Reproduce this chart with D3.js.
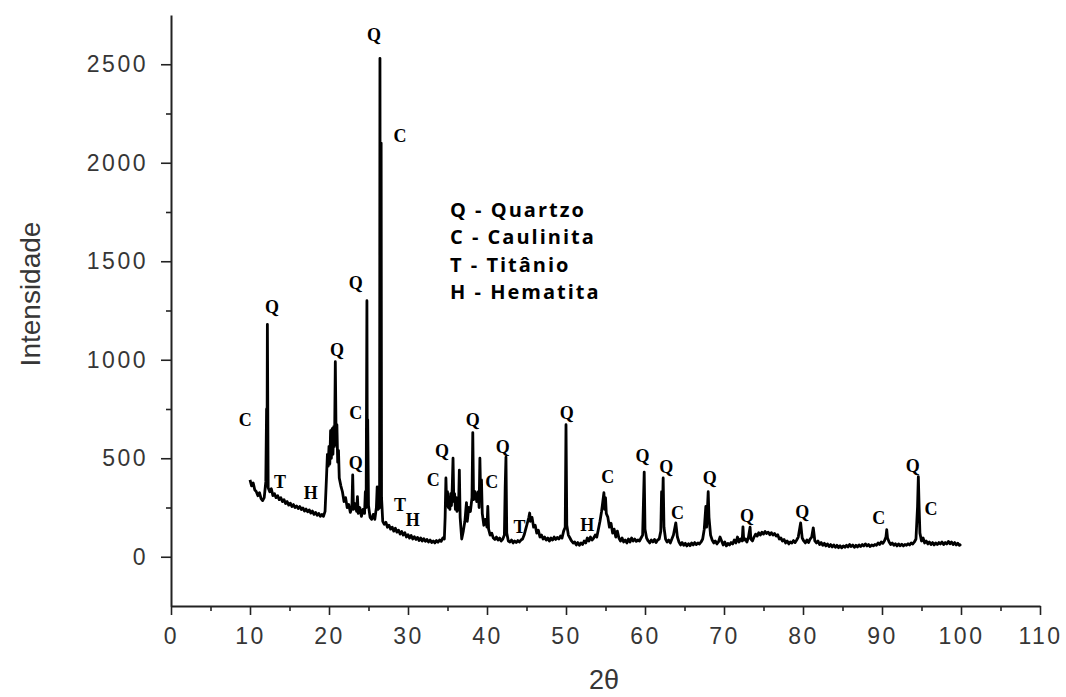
<!DOCTYPE html>
<html>
<head>
<meta charset="utf-8">
<script src="https://cdn.jsdelivr.net/npm/d3@7"></script>
<style>
  body { margin: 0; background: #fff; }
</style>
</head>
<body>
<script>
const width = 1066;
const height = 697;

// tick values
const xTicks = [0, 10, 20, 30, 40, 50, 60, 70, 80, 90, 100, 110];
const xMinorTicks = [5, 15, 25, 35, 45, 55, 65, 75, 85, 95, 105];
const yTicks = [0, 500, 1000, 1500, 2000, 2500];
const yMinorTicks = [250, 750, 1250, 1750, 2250];

// legend lines
const legendItems = ['Q - Quartzo', 'C - Caulinita', 'T - Titânio', 'H - Hematita'];

// diffractogram: [2theta, intensity]
const pattern = [
  [10.0, 390], [10.2, 360], [10.4, 375], [10.6, 340], [10.8, 330], [11.0, 310], [11.2, 325], [11.4, 295],
  [11.6, 285], [11.8, 300], [12.0, 380], [12.1, 750], [12.15, 420], [12.2, 1180], [12.3, 350],
  [12.5, 330], [12.7, 345], [12.9, 310], [13.1, 320], [13.3, 300], [13.5, 310], [13.7, 290], [13.9, 300],
  [14.1, 280], [14.3, 290], [14.5, 270], [14.7, 280], [14.9, 262], [15.1, 272], [15.3, 255], [15.5, 265],
  [15.7, 250], [15.9, 258], [16.1, 245], [16.3, 255], [16.5, 240], [16.7, 248], [16.9, 232], [17.1, 242],
  [17.3, 228], [17.5, 238], [17.7, 222], [17.9, 232], [18.1, 215], [18.3, 225], [18.5, 210], [18.7, 220],
  [18.9, 205], [19.1, 215], [19.3, 205], [19.5, 230],
  [19.7, 420], [19.8, 520], [19.9, 460], [20.0, 560], [20.1, 470], [20.2, 640], [20.3, 500], [20.4, 650],
  [20.5, 520], [20.6, 660], [20.7, 560], [20.8, 990], [20.9, 600], [21.0, 670], [21.1, 480], [21.2, 540],
  [21.3, 400], [21.5, 360], [21.7, 330], [21.9, 280], [22.1, 300], [22.3, 250], [22.5, 265], [22.7, 225],
  [22.9, 250], [23.0, 415], [23.1, 240], [23.3, 270], [23.5, 230], [23.6, 305], [23.7, 220], [23.9, 250],
  [24.1, 205], [24.3, 240], [24.5, 220], [24.6, 330], [24.7, 250], [24.8, 1300], [24.85, 420], [24.9, 695],
  [25.0, 260], [25.2, 200], [25.4, 190], [25.6, 215], [25.8, 190], [26.0, 250], [26.1, 355], [26.2, 240],
  [26.4, 250], [26.45, 2530], [26.5, 600], [26.6, 2100], [26.65, 300], [26.8, 180],
  [27.0, 165], [27.2, 175], [27.4, 150], [27.6, 160], [27.8, 140], [28.0, 150], [28.2, 130], [28.4, 145],
  [28.6, 125], [28.8, 135], [29.0, 115], [29.2, 128], [29.4, 110], [29.6, 122], [29.8, 100], [30.0, 112],
  [30.2, 95], [30.4, 108], [30.6, 90], [30.8, 102], [31.0, 88], [31.2, 98], [31.4, 82], [31.6, 95],
  [31.8, 80], [32.0, 92], [32.2, 78], [32.4, 88], [32.6, 75], [32.8, 85], [33.0, 72], [33.2, 80],
  [33.4, 70], [33.6, 82], [33.8, 74], [34.0, 85], [34.2, 78], [34.4, 95], [34.6, 90],
  [34.7, 200], [34.8, 400], [34.9, 260], [35.0, 330], [35.1, 250], [35.2, 300], [35.3, 240], [35.4, 320],
  [35.5, 260], [35.6, 350], [35.7, 500], [35.8, 280], [35.9, 320], [36.0, 240], [36.1, 300], [36.2, 230],
  [36.4, 260], [36.5, 440], [36.6, 200], [36.8, 90], [37.0, 130], [37.2, 180], [37.4, 275], [37.5, 180],
  [37.7, 250], [37.9, 230], [38.1, 300], [38.2, 630], [38.3, 290], [38.5, 330], [38.7, 280], [38.9, 330],
  [39.0, 250], [39.1, 500], [39.2, 300], [39.3, 390], [39.4, 220], [39.6, 160], [39.8, 190], [40.0, 150],
  [40.1, 255], [40.2, 140], [40.4, 110], [40.6, 120], [40.8, 95], [41.0, 88], [41.2, 100], [41.4, 85],
  [41.6, 95], [41.8, 80], [42.0, 90], [42.2, 110], [42.3, 350], [42.4, 505], [42.5, 120], [42.7, 80],
  [42.9, 75], [43.1, 85], [43.3, 70], [43.5, 80], [43.7, 72], [43.9, 82], [44.1, 75], [44.3, 85],
  [44.5, 90], [44.7, 110], [44.9, 140], [45.1, 170], [45.3, 200], [45.4, 222], [45.5, 180], [45.7, 200],
  [45.9, 150], [46.1, 160], [46.3, 120], [46.5, 135], [46.7, 100], [46.9, 110], [47.1, 90], [47.3, 100],
  [47.5, 85], [47.7, 95], [47.9, 80], [48.1, 95], [48.3, 85], [48.5, 100], [48.7, 88], [48.9, 98],
  [49.1, 90], [49.3, 105], [49.5, 95], [49.7, 130], [49.9, 150], [50.0, 670], [50.1, 160], [50.3, 110],
  [50.5, 95], [50.7, 80], [50.9, 70], [51.1, 75], [51.3, 60], [51.5, 72], [51.7, 58], [51.9, 70],
  [52.1, 62], [52.3, 80], [52.5, 70], [52.7, 95], [52.9, 80], [53.1, 100], [53.3, 85], [53.5, 95],
  [53.7, 110], [53.9, 100], [54.1, 140], [54.3, 180], [54.5, 230], [54.6, 260], [54.8, 325], [54.9, 240],
  [55.0, 300], [55.1, 220], [55.3, 200], [55.5, 150], [55.7, 170], [55.9, 120], [56.1, 140], [56.3, 100],
  [56.5, 130], [56.7, 95], [56.9, 80], [57.1, 95], [57.3, 75], [57.5, 85], [57.7, 70], [57.9, 90],
  [58.1, 75], [58.3, 95], [58.5, 80], [58.7, 90], [58.9, 78], [59.1, 85], [59.3, 80], [59.5, 95],
  [59.7, 110], [59.9, 430], [60.0, 140], [60.2, 95], [60.4, 80], [60.6, 70], [60.8, 85], [61.0, 75],
  [61.2, 88], [61.4, 72], [61.6, 85], [61.8, 90], [62.0, 130], [62.1, 330], [62.2, 220], [62.3, 400],
  [62.4, 150], [62.6, 90], [62.8, 75], [63.0, 85], [63.2, 70], [63.4, 90], [63.6, 110], [63.9, 172],
  [64.1, 100], [64.3, 75], [64.5, 60], [64.7, 72], [64.9, 58], [65.1, 68], [65.3, 55], [65.5, 66],
  [65.7, 56], [65.9, 70], [66.1, 60], [66.3, 72], [66.5, 62], [66.7, 70], [66.9, 65], [67.1, 75],
  [67.3, 90], [67.5, 140], [67.7, 255], [67.8, 150], [68.0, 330], [68.1, 200], [68.3, 110], [68.5, 85],
  [68.7, 70], [68.9, 80], [69.1, 65], [69.3, 75], [69.5, 100], [69.7, 80], [69.9, 60], [70.1, 75],
  [70.3, 55], [70.5, 68], [70.7, 60], [70.9, 72], [71.1, 65], [71.3, 85], [71.5, 70], [71.7, 100],
  [71.9, 75], [72.1, 90], [72.3, 80], [72.4, 152], [72.5, 85], [72.7, 90], [72.9, 75], [73.1, 100],
  [73.3, 150], [73.4, 90], [73.6, 80], [73.8, 100], [74.0, 115], [74.2, 105], [74.4, 122], [74.6, 110],
  [74.8, 125], [75.0, 115], [75.2, 128], [75.4, 118], [75.6, 125], [75.8, 112], [76.0, 122], [76.2, 110],
  [76.4, 118], [76.6, 105], [76.8, 112], [77.0, 90], [77.2, 95], [77.4, 80], [77.6, 88], [77.8, 70],
  [78.0, 80], [78.2, 65], [78.4, 75], [78.6, 70], [78.8, 82], [79.0, 72], [79.2, 85], [79.4, 100],
  [79.7, 172], [79.9, 95], [80.1, 80], [80.3, 70], [80.5, 85], [80.7, 72], [80.9, 90], [81.1, 100],
  [81.3, 147], [81.5, 80], [81.7, 70], [81.9, 80], [82.1, 62], [82.3, 72], [82.5, 58], [82.7, 68],
  [82.9, 55], [83.1, 65], [83.3, 52], [83.5, 62], [83.7, 50], [83.9, 60], [84.1, 48], [84.3, 58],
  [84.5, 46], [84.7, 56], [84.9, 45], [85.1, 55], [85.3, 48], [85.5, 58], [85.7, 50], [85.9, 62],
  [86.1, 52], [86.3, 60], [86.5, 48], [86.7, 58], [86.9, 50], [87.1, 60], [87.3, 52], [87.5, 62],
  [87.7, 55], [87.9, 65], [88.1, 55], [88.3, 62], [88.5, 52], [88.7, 60], [88.9, 55], [89.1, 62],
  [89.3, 58], [89.5, 70], [89.7, 62], [89.9, 75], [90.1, 68], [90.3, 80], [90.5, 100], [90.6, 137],
  [90.7, 95], [90.9, 75], [91.1, 62], [91.3, 70], [91.5, 58], [91.7, 66], [91.9, 55], [92.1, 65],
  [92.3, 56], [92.5, 64], [92.7, 55], [92.9, 62], [93.1, 58], [93.3, 66], [93.5, 60], [93.7, 70],
  [93.9, 65], [94.1, 75], [94.3, 90], [94.5, 254], [94.6, 406], [94.7, 250], [94.8, 120], [95.0, 80],
  [95.2, 95], [95.4, 70], [95.6, 80], [95.8, 65], [96.0, 75], [96.2, 62], [96.4, 72], [96.6, 60],
  [96.8, 70], [97.0, 62], [97.2, 72], [97.4, 65], [97.6, 75], [97.8, 62], [98.0, 72], [98.2, 65],
  [98.4, 78], [98.6, 66], [98.8, 75], [99.0, 62], [99.2, 72], [99.4, 60], [99.6, 68], [99.8, 58],
  [100.0, 65]
];

// phase marks: letter, 2theta and intensity where the letter sits
const phaseMarks = [
  ['Q', 25.7, 2650], ['C', 29.0, 2137], ['Q', 12.8, 1269], ['C', 9.4, 695], ['T', 13.8, 381],
  ['H', 17.7, 325], ['Q', 21.0, 1051], ['Q', 23.4, 1391], ['C', 23.4, 731], ['Q', 23.4, 477],
  ['T', 29.0, 264], ['H', 30.6, 188], ['C', 33.2, 391], ['Q', 34.3, 538], ['Q', 38.2, 695],
  ['C', 40.6, 381], ['Q', 42.0, 558], ['T', 44.1, 152], ['Q', 50.1, 731], ['H', 52.7, 162],
  ['C', 55.3, 406], ['Q', 59.7, 513], ['Q', 62.7, 457], ['C', 64.1, 223], ['Q', 68.2, 401],
  ['Q', 72.9, 208], ['Q', 79.9, 228], ['C', 89.6, 198], ['Q', 93.9, 462], ['C', 96.2, 244]
];

const svg = d3.select('body').append('svg')
    .attr('width', width)
    .attr('height', height);

const x = d3.scaleLinear().domain([0, 110]).range([171, 1040]);
const y = d3.scaleLinear().domain([-250, 2750]).range([606, 15]);

const axisColor = '#222';
const labelColor = '#363636';

// minor ticks first, then the major axes on top
svg.append('g')
    .attr('transform', `translate(0,${y(-250)})`)
    .call(d3.axisBottom(x).tickValues(xMinorTicks).tickSize(5).tickFormat(''))
    .call(g => g.select('.domain').remove());

svg.append('g')
    .attr('transform', `translate(${x(0)},0)`)
    .call(d3.axisLeft(y).tickValues(yMinorTicks).tickSize(5).tickFormat(''))
    .call(g => g.select('.domain').remove());

svg.append('g')
    .attr('transform', `translate(0,${y(-250)})`)
    .call(d3.axisBottom(x).tickValues(xTicks).tickFormat(d3.format('d'))
        .tickSize(9).tickSizeOuter(0).tickPadding(13));

svg.append('g')
    .attr('transform', `translate(${x(0)},0)`)
    .call(d3.axisLeft(y).tickValues(yTicks).tickFormat(d3.format('d'))
        .tickSize(10).tickSizeOuter(0).tickPadding(13));

svg.selectAll('.tick line').attr('stroke', axisColor).attr('stroke-width', 1.6);
svg.selectAll('.domain').attr('stroke', axisColor).attr('stroke-width', 2);
svg.selectAll('.tick text')
    .attr('fill', labelColor)
    .style('font-family', '"Liberation Sans", Arial, sans-serif')
    .style('font-size', '23px')
    .style('letter-spacing', '2.5px');

// axis titles
svg.append('text')
    .attr('transform', `translate(40,294) rotate(-90)`)
    .attr('text-anchor', 'middle')
    .attr('fill', labelColor)
    .style('font-family', '"Liberation Sans", Arial, sans-serif')
    .style('font-size', '28px')
    .text('Intensidade');

svg.append('text')
    .attr('x', 604)
    .attr('y', 689)
    .attr('text-anchor', 'middle')
    .attr('fill', labelColor)
    .style('font-family', '"Liberation Sans", Arial, sans-serif')
    .style('font-size', '27px')
    .text('2θ');

// diffractogram trace
const line = d3.line()
    .x(d => x(d[0]))
    .y(d => y(d[1]));

svg.append('path')
    .datum(pattern)
    .attr('d', line)
    .attr('fill', 'none')
    .attr('stroke', '#000')
    .attr('stroke-width', 2.8)
    .attr('stroke-linejoin', 'round');

// phase letters over the peaks
svg.append('g')
    .selectAll('text')
    .data(phaseMarks)
    .join('text')
    .attr('x', d => x(d[1]))
    .attr('y', d => y(d[2]))
    .attr('text-anchor', 'middle')
    .attr('dominant-baseline', 'central')
    .attr('fill', '#000')
    .style('font-family', '"Liberation Serif", "Times New Roman", serif')
    .style('font-weight', 'bold')
    .style('font-size', '18px')
    .text(d => d[0]);

// legend
svg.append('g')
    .selectAll('text')
    .data(legendItems)
    .join('text')
    .attr('x', 450)
    .attr('y', (d, i) => 209 + i * 27.5)
    .attr('dominant-baseline', 'central')
    .attr('fill', '#000')
    .style('font-family', '"Open Sans", sans-serif')
    .style('font-weight', 'bold')
    .style('font-size', '20px')
    .style('letter-spacing', '2px')
    .text(d => d);
</script>
</body>
</html>
